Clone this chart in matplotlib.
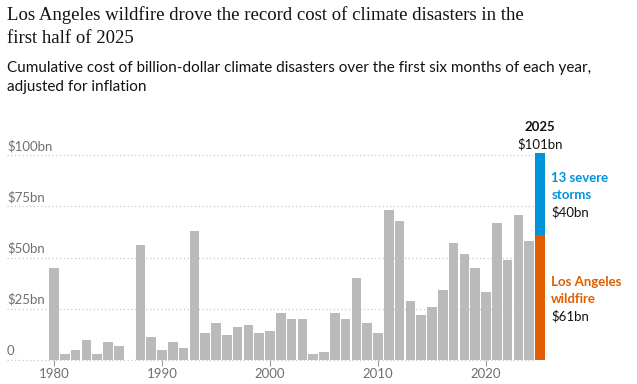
import matplotlib.pyplot as plt
import numpy as np

years = list(range(1980, 2025))
costs = [45, 3, 5, 10, 3, 9, 7, 0, 56, 11,
         5, 9, 6, 63, 13, 18, 12, 16, 17, 13,
         14, 23, 20, 20, 3, 4, 23, 20, 40, 18,
         13, 73, 68, 29, 22, 26, 34, 57, 52, 45,
         33, 67, 49, 71, 58]
year_2025 = 2025
wildfire_2025 = 61
storms_2025 = 40
y_ticks = [0, 25, 50, 75, 100]
y_tick_labels = ["0", "\\$25bn", "\\$50bn", "\\$75bn", "\\$100bn"]
x_ticks = [1980, 1990, 2000, 2010, 2020]

GREY = "#bababa"
BLUE = "#0094d8"
ORANGE = "#e05e00"
TEXT_GREY = "#707070"
SANS = "Lato"

W, H = 637, 384
fig = plt.figure(figsize=(W / 100, H / 100), dpi=100)

# pixel layout: 1980 centre at x=54, 10.8 px per year; baseline y=360, 2.048 px per bn
px_year = 10.8
x0_px, x1_px = 7, 637
xmin = 1980 - (54 - x0_px) / px_year
xmax = 1980 + (x1_px - 54) / px_year
top_px = 110
ymax = (360 - top_px) / 2.048
ax = fig.add_axes([x0_px / W, (H - 360) / H, (x1_px - x0_px) / W, (360 - top_px) / H])
ax.set_xlim(xmin, xmax)
ax.set_ylim(0, ymax)


def py(px):
    # figure pixel row -> data value
    return (360 - px) / 2.048


grid_right = 2025 - 0.45
for v, lab in zip(y_ticks, y_tick_labels):
    ax.plot([xmin, grid_right], [v, v], color="#c8c8c8", lw=0.9,
            linestyle=(0, (1, 2)), zorder=1, clip_on=False)
    ax.text(xmin, v + 1.5, lab, ha="left", va="bottom", fontsize=9.5,
            color=TEXT_GREY, family=SANS)

ax.bar(years, costs, width=0.88, color=GREY, zorder=2)
ax.bar([year_2025], [wildfire_2025], width=0.88, color=ORANGE, zorder=2)
ax.bar([year_2025], [storms_2025], bottom=[wildfire_2025], width=0.88, color=BLUE, zorder=2)

for s in ax.spines.values():
    s.set_visible(False)
ax.set_yticks([])
ax.set_xticks(x_ticks)
ax.set_xticklabels([str(x) for x in x_ticks], fontsize=9.5, color=TEXT_GREY, family=SANS)
ax.tick_params(axis="x", length=4, width=0.8, color="#999999", pad=2)

total = wildfire_2025 + storms_2025
ax.text(year_2025, py(127), "2025", ha="center", va="center", fontsize=9.5,
        fontweight="bold", color="#121212", family=SANS)
ax.text(year_2025, py(144), f"\\${total}bn", ha="center", va="center", fontsize=9.5,
        color="#121212", family=SANS)

lx = year_2025 + 1.05
labels = [
    (178, "13 severe", BLUE, "bold"),
    (195, "storms", BLUE, "bold"),
    (212, f"\\${storms_2025}bn", "#121212", "normal"),
    (282, "Los Angeles", ORANGE, "bold"),
    (299, "wildfire", ORANGE, "bold"),
    (316, f"\\${wildfire_2025}bn", "#121212", "normal"),
]
for ypx, txt, col, wt in labels:
    ax.text(lx, py(ypx), txt, ha="left", va="center", fontsize=9.5,
            fontweight=wt, color=col, family=SANS)

fig.text(7 / W, 1 - 6 / H, "Los Angeles wildfire drove the record cost of climate disasters in the\nfirst half of 2025",
         ha="left", va="top", fontsize=13.5, color="#121212", family="Liberation Serif",
         linespacing=1.45)
fig.text(7 / W, 1 - 61 / H, "Cumulative cost of billion-dollar climate disasters over the first six months of each year,\nadjusted for inflation",
         ha="left", va="top", fontsize=11, color="#121212", family=SANS, linespacing=1.5)

fig.savefig("out.png", dpi=100)
